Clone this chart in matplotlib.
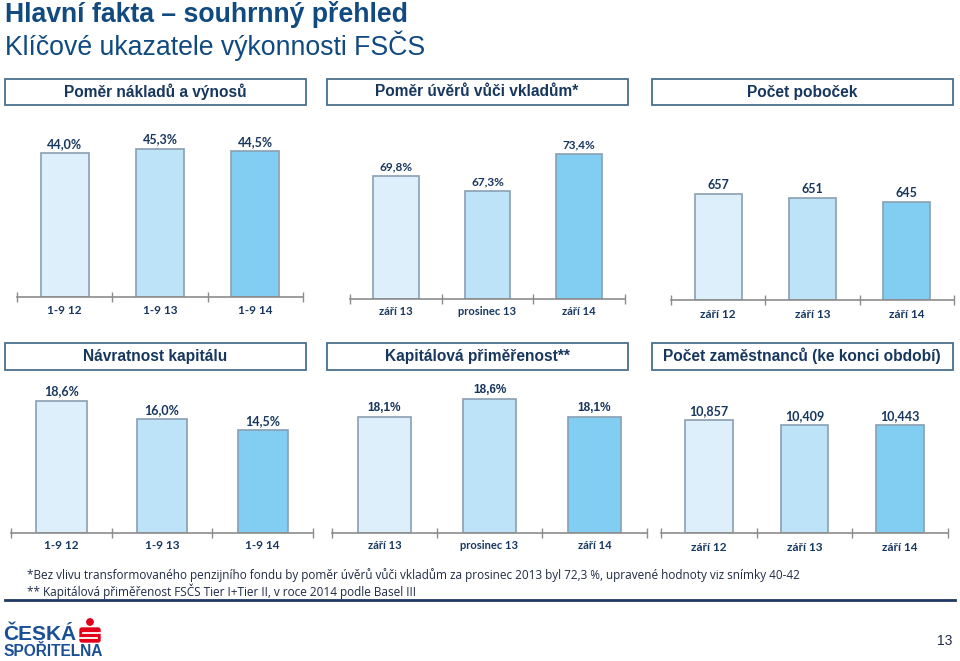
import matplotlib
matplotlib.use("Agg")
import matplotlib.pyplot as plt
from matplotlib.patches import Rectangle, FancyBboxPatch, Circle

W, H = 960, 661

# data
kategorie_19 = ["1-9 12", "1-9 13", "1-9 14"]
kategorie_uv = ["září 13", "prosinec 13", "září 14"]
kategorie_zari = ["září 12", "září 13", "září 14"]

naklady_vynosy = [44.0, 45.3, 44.5]
uvery_vklady = [69.8, 67.3, 73.4]
pobocky = [657, 651, 645]
navratnost = [18.6, 16.0, 14.5]
kapitalova = [18.1, 18.6, 18.1]
zamestnanci = [10.857, 10.409, 10.443]

popisky_nv = ["44,0%", "45,3%", "44,5%"]
popisky_uv = ["69,8%", "67,3%", "73,4%"]
popisky_pob = ["657", "651", "645"]
popisky_nav = ["18,6%", "16,0%", "14,5%"]
popisky_kap = ["18,1%", "18,6%", "18,1%"]
popisky_zam = ["10,857", "10,409", "10,443"]

nadpisy_1 = ["Poměr nákladů a výnosů", "Poměr úvěrů vůči vkladům*", "Počet poboček"]
nadpisy_2 = ["Návratnost kapitálu", "Kapitálová přiměřenost**", "Počet zaměstnanců (ke konci období)"]

barvy = ["#DDEFFB", "#BDE3F8", "#82CEF3"]
hrana = "#8A9FB2"
navy = "#17375E"
modra = "#114A80"

fig = plt.figure(figsize=(W / 100, H / 100), dpi=100)

# overlay in pixel coords
bg = fig.add_axes([0, 0, 1, 1])
bg.set_xlim(0, W)
bg.set_ylim(H, 0)
bg.axis("off")


def px_axes(x0, x1, ytop, ybase):
   return fig.add_axes([x0 / W, 1 - ybase / H, (x1 - x0) / W, (ybase - ytop) / H])


def graf(x0, x1, ytop, ybase, ymin, ymax, hodnoty, popisky, kategorie,
         fs_val=9, fs_kat=8.5, font_val="Lato", pad=6):
   ax = px_axes(x0, x1, ytop, ybase)
   pos = range(len(hodnoty))
   ax.bar(pos, [v - ymin for v in hodnoty], bottom=ymin, width=0.5,
          color=barvy, edgecolor=hrana, linewidth=1.2, zorder=2)
   for i, v in enumerate(hodnoty):
      ax.annotate(popisky[i], (i, v), xytext=(0, 6.5), textcoords="offset points",
                  ha="center", va="center", fontsize=fs_val, fontweight="bold",
                  color=navy, family=font_val)
   ax.set_xlim(-0.5, len(hodnoty) - 0.5)
   ax.set_ylim(ymin, ymax)
   for s in ["top", "left", "right"]:
      ax.spines[s].set_visible(False)
   ax.spines["bottom"].set_color("#8C8C8C")
   ax.spines["bottom"].set_linewidth(1.2)
   ax.set_yticks([])
   ax.set_xticks(list(pos))
   ax.set_xticklabels(kategorie, fontsize=fs_kat, fontweight="bold", color=navy, family="Lato")
   ax.tick_params(axis="x", which="major", length=0, pad=pad)
   ax.set_xticks([i - 0.5 for i in range(len(hodnoty) + 1)], minor=True)
   ax.tick_params(axis="x", which="minor", direction="inout", length=7, width=1, color="#8C8C8C")
   ax.patch.set_alpha(0)
   return ax


# row 1
graf(17, 303, 120, 297, 0, 54, naklady_vynosy, popisky_nv, kategorie_19, pad=5.5)
graf(350, 625, 120, 299, 49.6, 79.0, uvery_vklady, popisky_uv, kategorie_uv, fs_val=8.5, fs_kat=8, pad=5)
graf(671, 954, 120, 300, 498.5, 768.5, pobocky, popisky_pob, kategorie_zari, pad=6.5)

# row 2
graf(11, 313, 380, 532.7, 0, 21.5, navratnost, popisky_nav, kategorie_19, pad=5.5)
graf(332, 647, 380, 533.3, 14.86, 19.12, kapitalova, popisky_kap, kategorie_uv,
     fs_val=8.5, fs_kat=8, font_val="Liberation Sans", pad=5)
graf(661, 948, 380, 533.3, 1.26, 14.25, zamestnanci, popisky_zam, kategorie_zari, pad=6.5)

# title
bg.text(5, 15, "Hlavní fakta – souhrnný přehled", fontsize=19.2, fontweight="bold",
        color=modra, family="Liberation Sans", va="center", ha="left")
bg.text(5, 46, "Klíčové ukazatele výkonnosti FSČS", fontsize=19.2,
        color=modra, family="Liberation Sans", va="center", ha="left")

# header boxes
boxy_x = [(5, 305.5), (326.5, 627.5), (651.5, 952.5)]
for (a, b), t in zip(boxy_x, nadpisy_1):
   bg.add_patch(Rectangle((a, 78.5), b - a, 26.5, fill=False, edgecolor="#4A6F8E", linewidth=1.3))
   bg.text((a + b) / 2, 92, t, fontsize=11.2, fontweight="bold", color=navy,
           family="Liberation Sans", ha="center", va="center")
for (a, b), t in zip(boxy_x, nadpisy_2):
   bg.add_patch(Rectangle((a, 342.5), b - a, 27, fill=False, edgecolor="#4A6F8E", linewidth=1.3))
   bg.text((a + b) / 2, 356, t, fontsize=11.2, fontweight="bold", color=navy,
           family="Liberation Sans", ha="center", va="center")

# footnotes
bg.text(27, 575, "*Bez vlivu transformovaného penzijního fondu by poměr úvěrů vůči vkladům za prosinec 2013 byl 72,3 %, upravené hodnoty viz snímky 40-42",
        fontsize=8.45, color="#1F2A44", family="Open Sans", va="center", ha="left")
bg.text(27, 591, "** Kapitálová přiměřenost FSČS Tier I+Tier II, v roce 2014 podle Basel III",
        fontsize=8.45, color="#1F2A44", family="Open Sans", va="center", ha="left")
bg.plot([5, 955], [600, 600], color="#1F3864", linewidth=2)

# logo
bg.text(3, 634, "ČESKÁ", fontsize=15, fontweight="heavy", color="#1A4F96",
        family="Liberation Sans", va="center", ha="left")
bg.text(3, 652, "SPOŘITELNA", fontsize=11.2, fontweight="heavy", color="#1A4F96",
        family="Liberation Sans", va="center", ha="left")
bg.add_patch(Circle((90, 622), 3.2, color="#E2001A"))
bg.add_patch(FancyBboxPatch((80, 628), 20, 14, boxstyle="round,pad=0,rounding_size=2",
                            color="#E2001A"))
bg.plot([83, 100], [632.5, 632.5], color="white", linewidth=1.3)
bg.plot([80, 97], [637.5, 637.5], color="white", linewidth=1.3)

bg.text(945, 641, "13", fontsize=10, color="#1F2A44", family="Liberation Sans",
        ha="center", va="center")

fig.savefig("out.png", dpi=100)
